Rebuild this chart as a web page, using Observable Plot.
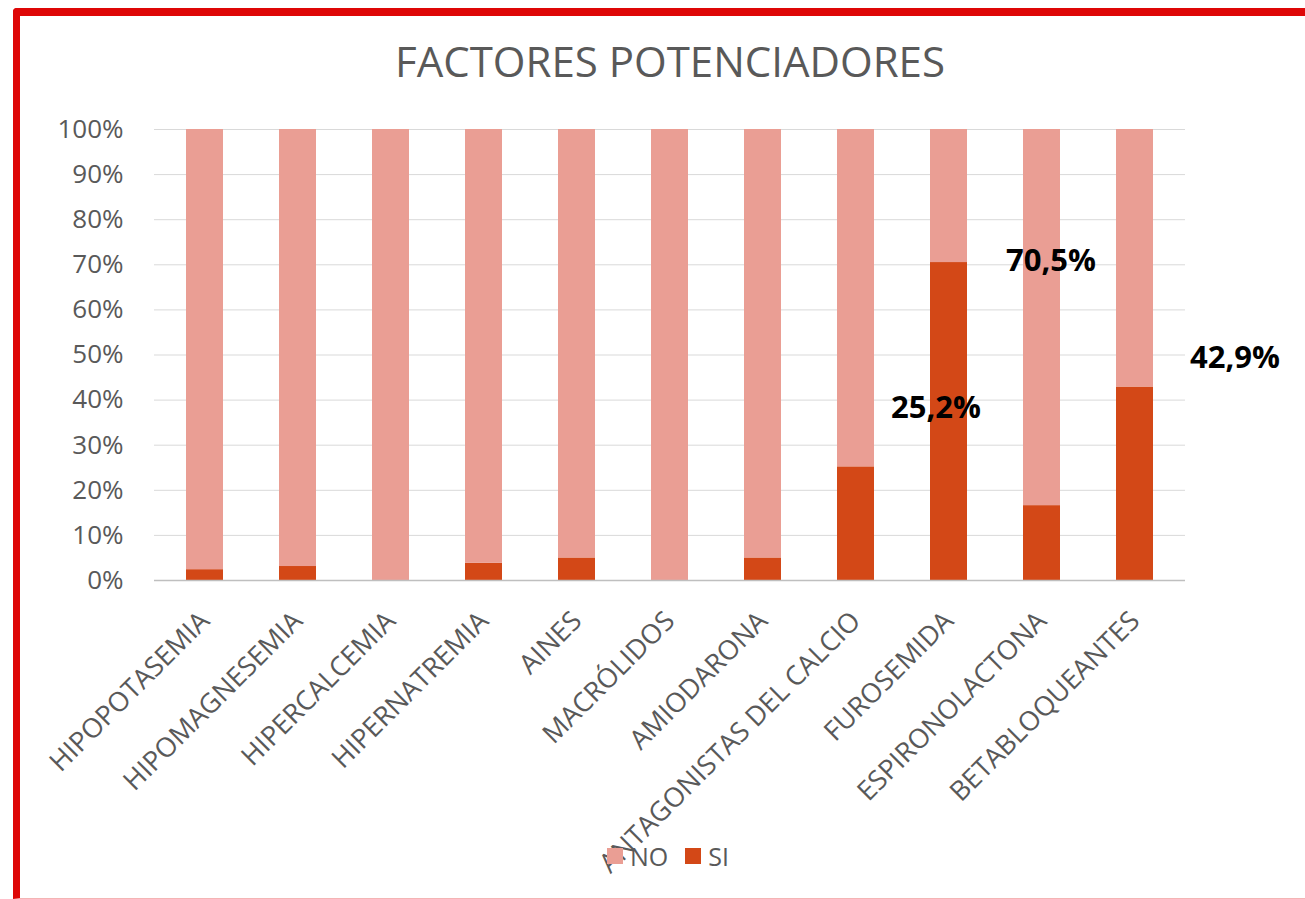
<!DOCTYPE html>
<html>
<head>
<meta charset="utf-8">
<script src="https://cdn.jsdelivr.net/npm/d3@7"></script>
<script src="https://cdn.jsdelivr.net/npm/@observablehq/plot@0.6"></script>
<style>
  html, body { margin: 0; padding: 0; background: #fff; }
  #page { position: relative; width: 1305px; height: 899px; overflow: hidden; font-family: "Open Sans", sans-serif; }
  #frame { position: absolute; left: 13px; top: 8px; width: 1300px; height: 882px;
           border-top: 8px solid #DE0707; border-left: 7px solid #DE0707; border-bottom: 1px solid #F4B4B4;
           border-top-left-radius: 4px; box-sizing: content-box; }
  #title { position: absolute; left: 0; width: 1340px; top: 40px; text-align: center;
           font-size: 42px; color: #595959; line-height: 1; }
  #chart { position: absolute; left: 0; top: 100px; }
  #chart svg { overflow: visible; }
  #legend { position: absolute; top: 839px; left: 607px; display: flex; align-items: center;
            font-size: 25px; color: #595959; }
  .sw { width: 16px; height: 16px; display: inline-block; margin-right: 7px; }
</style>
</head>
<body>
<div id="page">
  <div id="frame"></div>
  <div id="title">FACTORES POTENCIADORES</div>
  <div id="chart"></div>
  <div id="legend">
    <span class="sw" style="background:#EA9E94"></span><span style="margin-right:17px">NO</span>
    <span class="sw" style="background:#D34817"></span><span>SI</span>
  </div>
</div>
<script>
const categories = ["HIPOPOTASEMIA", "HIPOMAGNESEMIA", "HIPERCALCEMIA", "HIPERNATREMIA", "AINES",
  "MACRÓLIDOS", "AMIODARONA", "ANTAGONISTAS DEL CALCIO", "FUROSEMIDA", "ESPIRONOLACTONA", "BETABLOQUEANTES"];
const siValues = [2.4, 3.1, 0, 3.8, 5.0, 0, 5.0, 25.2, 70.5, 16.6, 42.9];
const noValues = [97.6, 96.9, 100, 96.2, 95.0, 100, 95.0, 74.8, 29.5, 83.4, 57.1];
const series = ["SI", "NO"];
const yTicks = [0, 10, 20, 30, 40, 50, 60, 70, 80, 90, 100];
const annotCategories = ["ANTAGONISTAS DEL CALCIO", "FUROSEMIDA", "BETABLOQUEANTES"];
const annotValues = [25.2, 70.5, 42.9];
const annotLabels = ["25,2%", "70,5%", "42,9%"];

const rows = [];
categories.forEach((c, i) => {
  rows.push({cat: c, serie: "SI", value: siValues[i]});
  rows.push({cat: c, serie: "NO", value: noValues[i]});
});
const annots = annotCategories.map((c, i) => ({cat: c, value: annotValues[i], label: annotLabels[i]}));
const annotOffsets = [{dx: 80, dy: -59}, {dx: 102, dy: -1}, {dx: 100, dy: -29}];

const plot = Plot.plot({
  width: 1305,
  height: 790,
  marginTop: 29,
  marginBottom: 310,
  marginLeft: 154,
  marginRight: 120,
  style: {fontFamily: "Open Sans, sans-serif", color: "#595959", background: "transparent", overflow: "visible"},
  x: {domain: categories, paddingInner: 0.6, paddingOuter: 0.3, label: null},
  y: {domain: [0, 100], label: null},
  color: {domain: series, range: ["#D34817", "#EA9E94"]},
  marks: [
    Plot.gridY(yTicks, {stroke: "#D9D9D9", strokeOpacity: 1}),
    Plot.barY(rows, Plot.stackY({x: "cat", y: "value", fill: "serie", order: series})),
    Plot.ruleY([0], {stroke: "#BFBFBF", strokeWidth: 1.5}),
    Plot.axisY(yTicks, {tickSize: 0, tickPadding: 31, fontSize: 26, tickFormat: d => d + "%", label: null, fill: "#595959"}),
    Plot.axisX({tickSize: 0, tickPadding: 36, tickRotate: -45, fontSize: 27, label: null, fill: "#595959"}),
    ...annots.map((a, i) => Plot.text([a], {x: "cat", y: "value", text: "label", dx: annotOffsets[i].dx, dy: annotOffsets[i].dy,
      fontSize: 31, fontWeight: 700, fill: "#000", textAnchor: "middle"}))
  ]
});
document.getElementById("chart").appendChild(plot);
</script>
</body>
</html>
